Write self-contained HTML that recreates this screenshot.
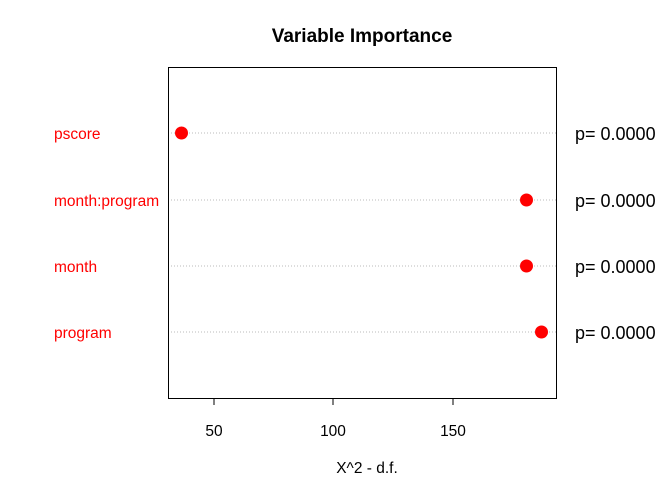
<!DOCTYPE html>
<html><head><style>body{margin:0;background:#fff}</style></head><body>
<svg width="672" height="480" xmlns="http://www.w3.org/2000/svg" font-family="Liberation Sans, Arial, sans-serif">
<rect width="672" height="480" fill="#fff"/>
<text x="362" y="42" text-anchor="middle" font-size="19" font-weight="bold">Variable Importance</text>
<g stroke="#bbb" stroke-dasharray="1,2" stroke-width="1">
<line x1="168" y1="133" x2="556" y2="133"/>
<line x1="168" y1="200" x2="556" y2="200"/>
<line x1="168" y1="266" x2="556" y2="266"/>
<line x1="168" y1="332" x2="556" y2="332"/>
</g>
<rect x="168.5" y="67.5" width="388" height="331" fill="none" stroke="#000"/>
<g stroke="#000">
<line x1="214" y1="398" x2="214" y2="405"/>
<line x1="333" y1="398" x2="333" y2="405"/>
<line x1="453" y1="398" x2="453" y2="405"/>
<line x1="214" y1="398.5" x2="453" y2="398.5"/>
</g>
<g font-size="15.5" text-anchor="middle">
<text x="214" y="436">50</text><text x="333" y="436">100</text><text x="453" y="436">150</text>
<text x="367" y="473">X^2 - d.f.</text>
</g>
<g fill="#f00">
<circle cx="181.5" cy="133" r="6.5"/><circle cx="526.5" cy="200" r="6.5"/>
<circle cx="526.5" cy="266" r="6.5"/><circle cx="541.5" cy="332" r="6.5"/>
</g>
<g fill="#f00" font-size="15.5">
<text x="54" y="139">pscore</text><text x="54" y="206">month:program</text>
<text x="54" y="272">month</text><text x="54" y="338">program</text>
</g>
<g font-size="18">
<text x="575" y="140">p= 0.0000</text><text x="575" y="207">p= 0.0000</text>
<text x="575" y="273">p= 0.0000</text><text x="575" y="339">p= 0.0000</text>
</g>
</svg>
</body></html>
